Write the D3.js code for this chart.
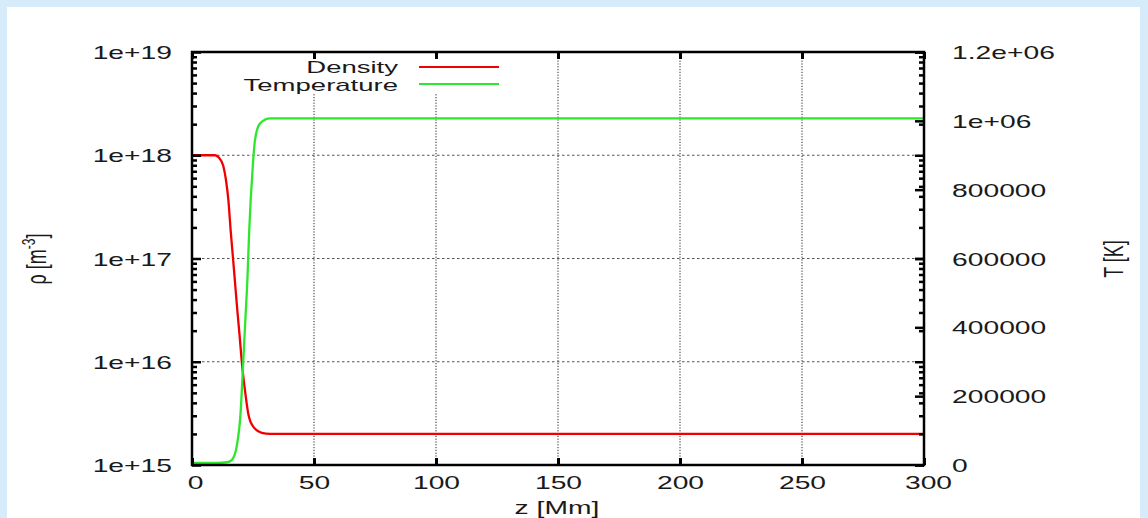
<!DOCTYPE html>
<html><head><meta charset="utf-8">
<script src="https://cdn.jsdelivr.net/npm/d3@7"></script>
<style>
body{margin:0;background:#d7ecfb;}
svg{display:block;}
text{font-family:"Liberation Sans",Arial,sans-serif;font-size:18px;fill:#1a1a1a;}
</style>
</head><body>
<svg id="c" width="1148" height="518"></svg>
<script>
// ---- data ----
const zDensity   = [0, 5, 9.4, 11, 12.8, 14.0, 14.9, 15.9, 16.9, 17.9, 18.6, 19.5, 20.4, 21.7, 23.1, 25.1, 28.6, 32, 60, 150, 300];
const rhoValues  = [1e18, 1e18, 1e18, 9.5e17, 7.9e17, 5.6e17, 3.7e17, 1.8e17, 9.5e16, 4.9e16, 3.1e16, 1.8e16, 1e16, 5.3e15, 3.1e15, 2.35e15, 2.05e15, 2e15, 2e15, 2e15, 2e15];
const zTemperature = [0, 10, 14.2, 16.3, 18.3, 19.9, 21.0, 22.0, 22.7, 23.4, 24.9, 25.8, 27.9, 32, 60, 150, 300];
const tempValues   = [6000, 6000, 8000, 14500, 53000, 150000, 300000, 441000, 537500, 673000, 866700, 944000, 992800, 1007000, 1007000, 1007000, 1007000];

const xTickValues = [0, 50, 100, 150, 200, 250, 300];
const xTickLabels = ["0", "50", "100", "150", "200", "250", "300"];
const yLeftTickValues = [1e15, 1e16, 1e17, 1e18, 1e19];
const yLeftTickLabels = ["1e+15", "1e+16", "1e+17", "1e+18", "1e+19"];
const yRightTickValues = [0, 200000, 400000, 600000, 800000, 1000000, 1200000];
const yRightTickLabels = ["0", "200000", "400000", "600000", "800000", "1e+06", "1.2e+06"];
const seriesNames = ["Density", "Temperature"];
const seriesColors = ["#f00000", "#2ee62e"];

// ---- layout ----
const SX = 1.57;      // horizontal glyph stretch of the original picture
const SX_LEG = 1.72;  // legend uses a slightly smaller font, stretched more to keep width
const L = 192, R = 924, T = 52, B = 465;
const svg = d3.select("#c");

svg.append("rect").attr("x", 7).attr("y", 7).attr("width", 1133).attr("height", 530).attr("fill", "#fff");

const x = d3.scaleLinear([0, 300], [L, R]);
const yL = d3.scaleLog([1e15, 1e19], [B, T]);
const yR = d3.scaleLinear([0, 1.2e6], [B, T]);

// grid
const grid = svg.append("g");
grid.selectAll("line.v").data(xTickValues.filter(v => v > 0 && v < 300)).join("line")
  .attr("x1", d => x(d)).attr("x2", d => x(d)).attr("y1", B).attr("y2", T)
  .attr("stroke", "#222").attr("stroke-width", 1).attr("stroke-dasharray", "1.2,1.6");
grid.selectAll("line.h").data(yLeftTickValues.filter(v => v > 1e15 && v < 1e19)).join("line")
  .attr("x1", L).attr("x2", R).attr("y1", d => yL(d)).attr("y2", d => yL(d))
  .attr("stroke", "#555").attr("stroke-width", 1).attr("stroke-dasharray", "2.5,2.5");

// legend background
svg.append("rect").attr("x", 228).attr("y", 54).attr("width", 278).attr("height", 39).attr("fill", "#fff");

// curves
const lineRho = d3.line().x((d, i) => x(zDensity[i])).y(d => yL(d)).curve(d3.curveMonotoneX);
const lineT = d3.line().x((d, i) => x(zTemperature[i])).y(d => yR(d)).curve(d3.curveMonotoneX);
svg.append("path").attr("d", lineRho(rhoValues)).attr("fill", "none")
  .attr("stroke", seriesColors[0]).attr("stroke-width", 2.3);
svg.append("path").attr("d", lineT(tempValues)).attr("fill", "none")
  .attr("stroke", seriesColors[1]).attr("stroke-width", 2.3);

// legend
const legY = [67, 84];
const legBase = [73, 91];
seriesNames.forEach((n, i) => {
  svg.append("text").attr("transform", `translate(398,${legBase[i]}) scale(${SX_LEG},1)`)
    .attr("text-anchor", "end").style("font-size", "16px").text(n);
  svg.append("line").attr("x1", 419).attr("x2", 499).attr("y1", legY[i]).attr("y2", legY[i])
    .attr("stroke", seriesColors[i]).attr("stroke-width", 2);
});

// axes
const minorLog = yL.ticks().filter(v => !yLeftTickValues.includes(v));

function styleTicks(g, w) {
  g.select(".domain").remove();
  g.selectAll(".tick line").attr("stroke", "#000").attr("stroke-width", w);
}
function styleLabels(sel) {
  sel.attr("fill", "#1a1a1a").style("font-size", "18px")
    .style("font-family", "'Liberation Sans',Arial,sans-serif");
}

// bottom
const gB = svg.append("g").attr("transform", `translate(0,${B})`)
  .call(d3.axisBottom(x).tickValues(xTickValues).tickSize(-7).tickFormat((d, i) => xTickLabels[i]));
styleTicks(gB, 3);
gB.selectAll("text").attr("y", null).attr("dy", null)
  .attr("transform", `translate(0,24) scale(${SX},1)`).call(styleLabels);
gB.select(".tick:last-of-type text").attr("transform", `translate(4,24) scale(${SX},1)`);
gB.select(".tick:first-of-type text").attr("transform", `translate(3,24) scale(${SX},1)`);

// top mirror
const gT = svg.append("g").attr("transform", `translate(0,${T})`)
  .call(d3.axisTop(x).tickValues(xTickValues).tickSize(-7).tickFormat(""));
styleTicks(gT, 3);

// left major + labels
const gL = svg.append("g").attr("transform", `translate(${L},0)`)
  .call(d3.axisLeft(yL).tickValues(yLeftTickValues).tickSize(-9).tickFormat((d, i) => yLeftTickLabels[i]));
styleTicks(gL, 2.5);
gL.selectAll("text").attr("x", null).attr("dy", null)
  .attr("transform", `translate(-20,6.5) scale(${SX},1)`).call(styleLabels);
const gLm = svg.append("g").attr("transform", `translate(${L},0)`)
  .call(d3.axisLeft(yL).tickValues(minorLog).tickSize(-5).tickFormat(""));
styleTicks(gLm, 2.5);

// right mirror of left log ticks
const gRL = svg.append("g").attr("transform", `translate(${R},0)`)
  .call(d3.axisRight(yL).tickValues(yLeftTickValues).tickSize(-9).tickFormat(""));
styleTicks(gRL, 2.5);
const gRLm = svg.append("g").attr("transform", `translate(${R},0)`)
  .call(d3.axisRight(yL).tickValues(minorLog).tickSize(-5).tickFormat(""));
styleTicks(gRLm, 2.5);

// right T axis
const gR = svg.append("g").attr("transform", `translate(${R},0)`)
  .call(d3.axisRight(yR).tickValues(yRightTickValues).tickSize(-9).tickFormat((d, i) => yRightTickLabels[i]));
styleTicks(gR, 2.5);
gR.selectAll("text").attr("x", null).attr("dy", null)
  .attr("transform", `translate(28,6.5) scale(${SX},1)`).attr("text-anchor", "start").call(styleLabels);

// frame
svg.append("rect").attr("x", L).attr("y", T).attr("width", R - L).attr("height", B - T)
  .attr("fill", "none").attr("stroke", "#000").attr("stroke-width", 2.5);

// axis titles
svg.append("text").attr("transform", `translate(557,514) scale(${SX},1)`).attr("text-anchor", "middle").text("z [Mm]");
const yt = svg.append("text").attr("transform", `translate(46,259) scale(${SX},1) rotate(-90)`).attr("text-anchor", "middle");
yt.append("tspan").text("ρ [m");
yt.append("tspan").attr("dy", -7).style("font-size", "12px").text("-3");
yt.append("tspan").attr("dy", 7).text("]");
svg.append("text").attr("transform", `translate(1123,259) scale(${SX},1) rotate(-90)`).attr("text-anchor", "middle").text("T [K]");
</script>
</body></html>
